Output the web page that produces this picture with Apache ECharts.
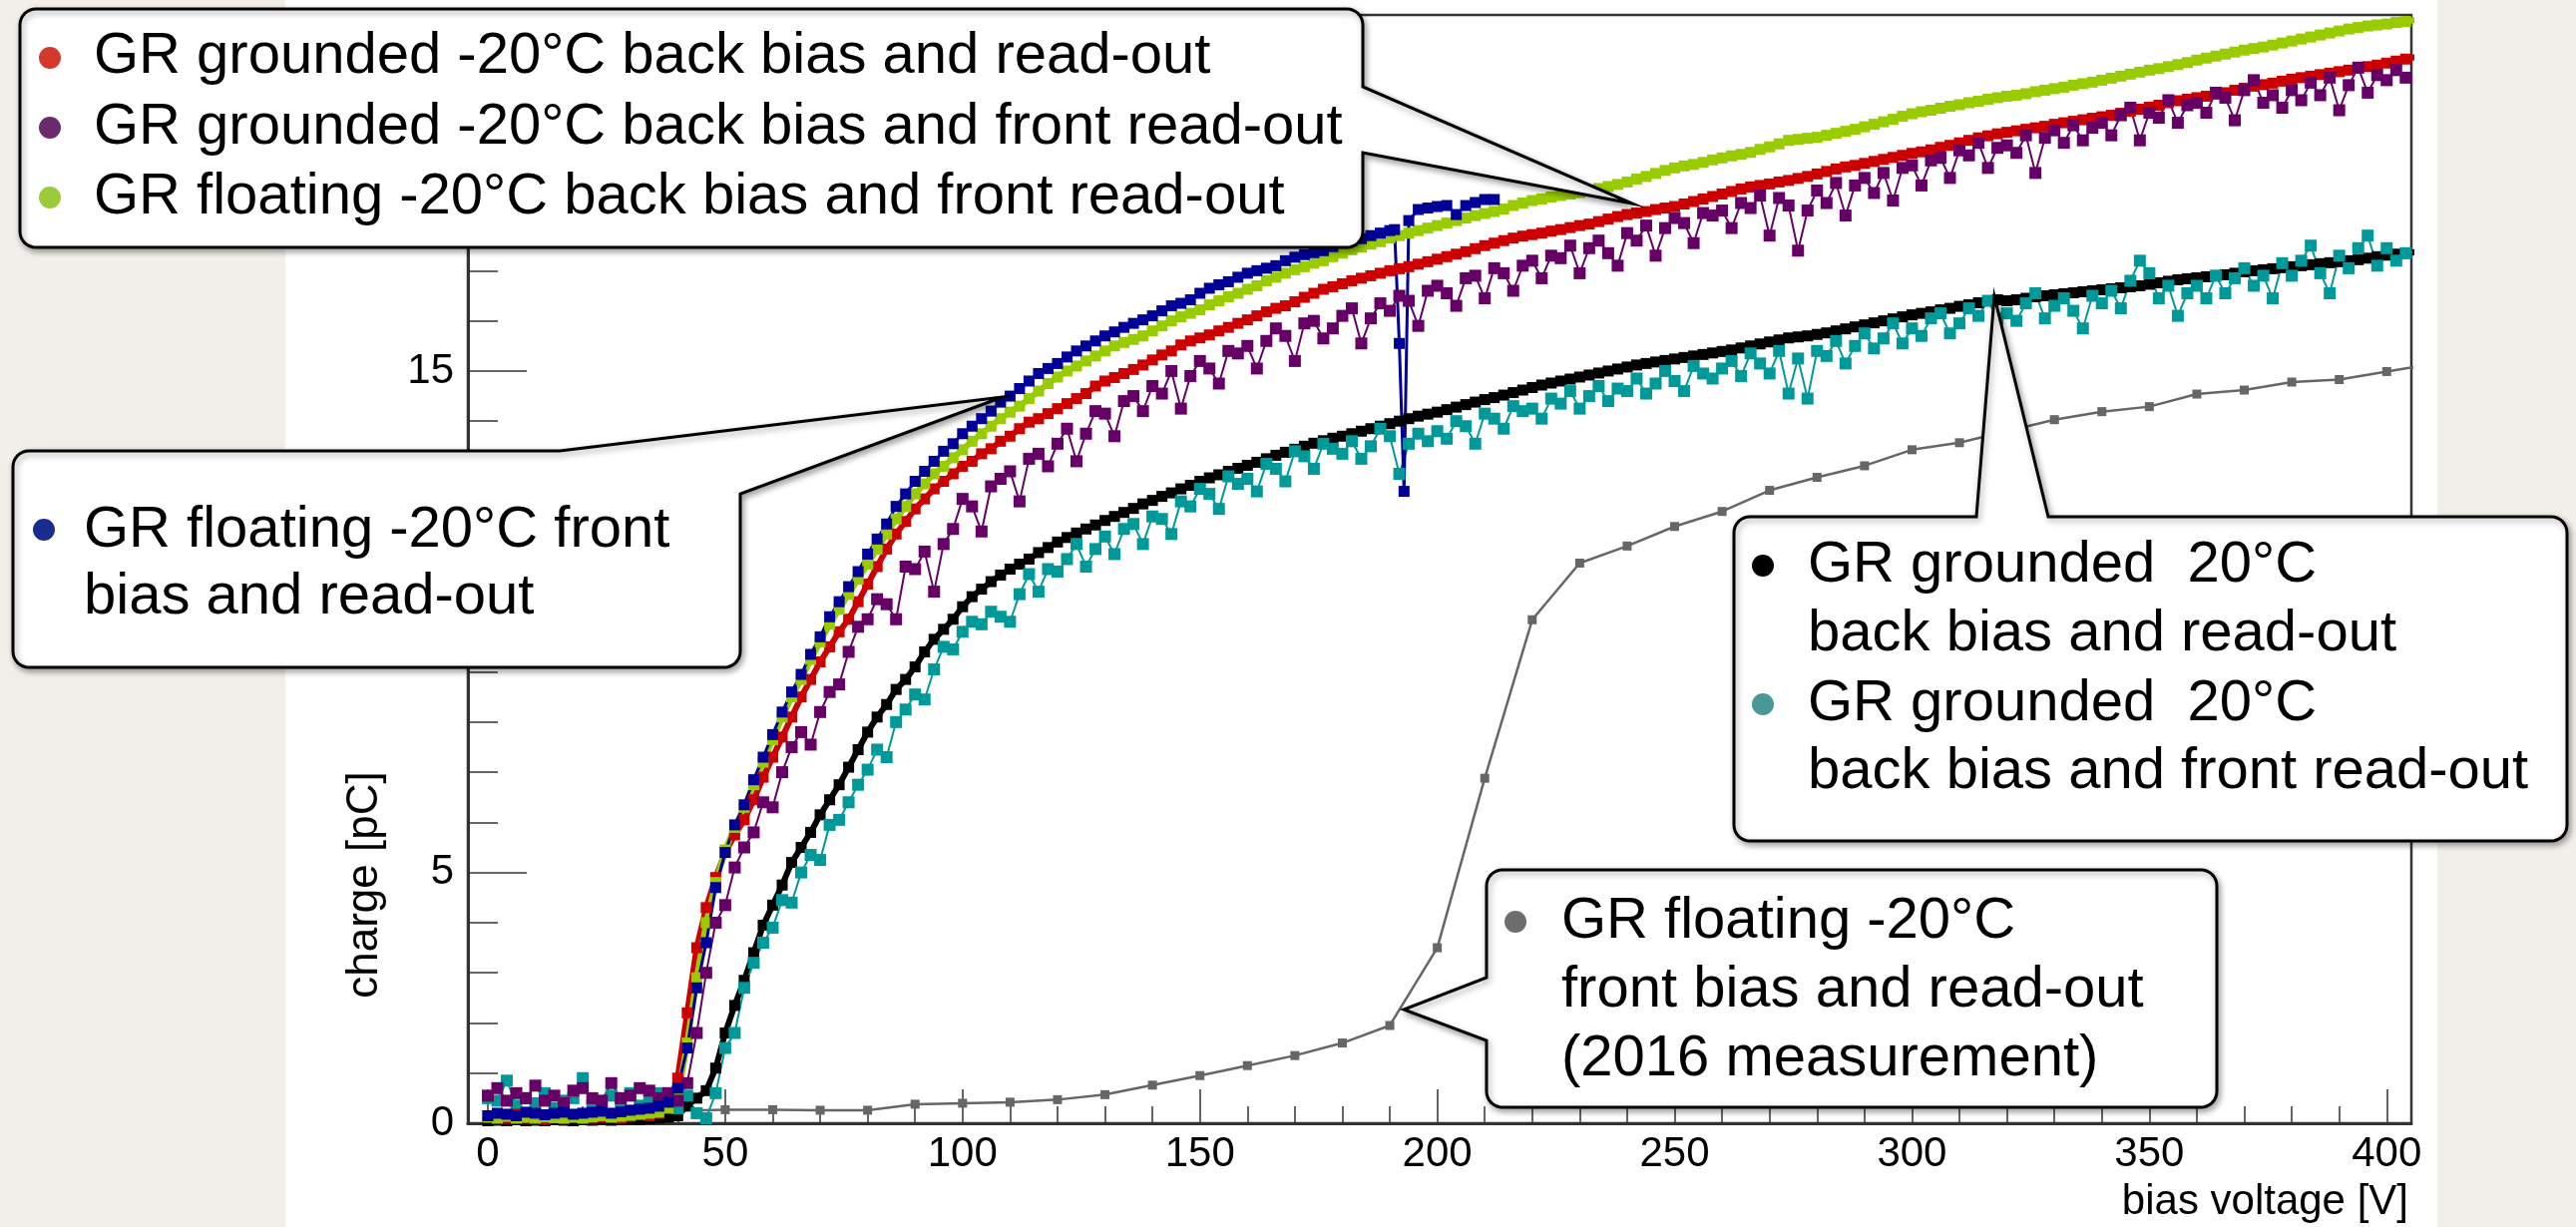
<!DOCTYPE html>
<html><head><meta charset="utf-8">
<script src="https://cdn.jsdelivr.net/npm/echarts@6/dist/echarts.min.js"></script>
<style>html,body{margin:0;padding:0;background:#f2efea}#c{width:2582px;height:1230px}</style>
</head><body><div id="c"></div>
<script>
// bias voltage scan points [V]
const volts = [
0,2,4,6,8,10,12,14,16,18,
20,22,24,26,28,30,32,34,36,38,
40,42,44,46,48,50,52,54,56,58,
60,62,64,66,68,70,72,74,76,78,
80,82,84,86,88,90,92,94,96,98,
100,102,104,106,108,110,112,114,116,118,
120,122,124,126,128,130,132,134,136,138,
140,142,144,146,148,150,152,154,156,158,
160,162,164,166,168,170,172,174,176,178,
180,182,184,186,188,190,192,194,196,198,
200,202,204,206,208,210,212,214,216,218,
220,222,224,226,228,230,232,234,236,238,
240,242,244,246,248,250,252,254,256,258,
260,262,264,266,268,270,272,274,276,278,
280,282,284,286,288,290,292,294,296,298,
300,302,304,306,308,310,312,314,316,318,
320,322,324,326,328,330,332,334,336,338,
340,342,344,346,348,350,352,354,356,358,
360,362,364,366,368,370,372,374,376,378,
380,382,384,386,388,390,392,394,396,398,
400,402,404,406,408];

// GR grounded -20C back bias and read-out [pC]
const redQ = [
0.15,0.12,0.10,0.18,0.10,0.12,0.08,0.15,0.10,0.12,
0.14,0.10,0.12,0.16,0.10,0.14,0.18,0.15,0.20,0.35,
0.90,2.20,3.50,4.30,4.90,5.40,5.75,6.05,6.45,6.90,
7.30,7.70,8.10,8.50,8.85,9.20,9.50,9.80,10.05,10.40,
10.75,11.10,11.45,11.75,12.00,12.25,12.45,12.65,12.80,12.95,
13.10,13.20,13.35,13.45,13.60,13.70,13.85,13.98,14.05,14.15,
14.25,14.35,14.45,14.55,14.70,14.80,14.87,14.95,15.03,15.12,
15.22,15.32,15.40,15.52,15.60,15.66,15.72,15.80,15.87,15.95,
16.02,16.10,16.18,16.25,16.30,16.38,16.47,16.55,16.63,16.68,
16.74,16.80,16.85,16.90,16.95,17.00,17.04,17.08,17.13,17.18,
17.23,17.28,17.33,17.38,17.44,17.50,17.55,17.60,17.65,17.69,
17.72,17.75,17.79,17.82,17.86,17.90,17.93,17.98,18.03,18.08,
18.12,18.15,18.18,18.22,18.25,18.28,18.33,18.38,18.43,18.48,
18.53,18.58,18.63,18.67,18.70,18.73,18.77,18.80,18.84,18.88,
18.93,18.98,19.03,19.07,19.10,19.14,19.18,19.22,19.26,19.30,
19.34,19.37,19.41,19.46,19.50,19.55,19.60,19.65,19.69,19.73,
19.76,19.79,19.82,19.85,19.88,19.92,19.95,19.98,20.01,20.04,
20.07,20.10,20.14,20.18,20.22,20.26,20.30,20.35,20.39,20.42,
20.45,20.48,20.52,20.55,20.60,20.64,20.68,20.71,20.74,20.78,
20.82,20.85,20.88,20.91,20.94,20.97,21.00,21.04,21.07,21.10,
21.14,21.18,21.22,21.26,21.30];

// GR grounded -20C back bias and front read-out [pC]
const purpleQ = [
0.55,0.70,0.45,0.60,0.50,0.75,0.45,0.55,0.40,0.65,
0.70,0.50,0.45,0.80,0.50,0.55,0.70,0.65,0.50,0.60,
0.45,0.80,1.80,3.00,4.00,4.35,5.10,5.50,5.80,6.40,
6.30,7.00,7.50,7.80,7.55,8.20,8.60,8.75,9.40,9.90,
10.05,10.45,10.35,10.05,11.10,11.05,11.40,10.60,11.55,11.85,
12.45,12.30,11.80,12.70,12.85,13.00,12.40,13.25,13.35,13.10,
13.55,13.85,13.20,13.75,14.20,14.15,13.70,14.40,14.50,14.20,
14.70,14.55,15.00,14.25,14.90,15.20,15.05,14.75,15.40,15.35,
15.50,15.05,15.60,15.85,15.70,15.20,15.95,16.00,15.65,15.85,
16.10,16.25,15.55,16.05,16.35,16.20,16.50,16.40,15.90,16.60,
16.70,16.55,16.30,16.85,16.90,16.45,17.05,16.95,16.60,17.10,
17.20,16.85,17.30,17.25,17.50,16.95,17.45,17.60,17.35,17.10,
17.75,17.60,17.90,17.30,17.85,18.05,17.95,17.55,18.15,18.10,
18.20,17.85,18.35,18.25,18.50,17.70,18.45,18.30,17.40,18.20,
18.60,18.35,18.75,18.10,18.70,18.85,18.55,18.95,18.40,19.05,
19.10,18.70,19.20,19.25,18.85,19.40,19.30,19.55,19.05,19.45,
19.50,19.35,19.70,18.95,19.65,19.80,19.55,19.90,19.60,19.85,
19.95,19.70,20.10,20.25,19.60,20.15,20.05,20.40,19.95,20.30,
20.35,20.15,20.55,20.45,20.00,20.60,20.80,20.35,20.50,20.25,
20.60,20.40,20.75,20.50,20.85,20.20,20.70,21.05,20.55,20.90,
20.80,21.00,20.85,20.80,20.70];

// GR floating -20C back bias and front read-out [pC]
const greenQ = [
0.12,0.10,0.14,0.10,0.12,0.10,0.13,0.11,0.10,0.12,
0.10,0.13,0.15,0.12,0.14,0.16,0.18,0.20,0.22,0.30,
0.50,1.60,2.90,4.00,4.80,5.45,5.90,6.30,6.75,7.20,
7.65,8.10,8.50,8.85,9.25,9.60,9.95,10.25,10.55,10.85,
11.15,11.45,11.75,12.05,12.30,12.55,12.75,12.95,13.10,13.27,
13.43,13.60,13.75,13.90,14.05,14.18,14.30,14.45,14.60,14.75,
14.88,15.00,15.10,15.20,15.30,15.40,15.50,15.57,15.63,15.70,
15.80,15.90,16.00,16.08,16.15,16.22,16.32,16.40,16.48,16.55,
16.63,16.70,16.80,16.87,16.95,17.02,17.08,17.15,17.20,17.28,
17.35,17.42,17.47,17.53,17.58,17.65,17.70,17.75,17.80,17.85,
17.90,17.95,18.00,18.05,18.10,18.14,18.18,18.23,18.30,18.35,
18.40,18.43,18.47,18.50,18.53,18.56,18.60,18.64,18.68,18.72,
18.77,18.83,18.88,18.94,19.00,19.05,19.09,19.12,19.16,19.21,
19.25,19.29,19.32,19.36,19.42,19.47,19.53,19.60,19.62,19.64,
19.66,19.70,19.74,19.78,19.82,19.87,19.92,19.97,20.02,20.08,
20.13,20.17,20.20,20.24,20.28,20.31,20.35,20.38,20.42,20.45,
20.48,20.50,20.53,20.57,20.60,20.63,20.66,20.70,20.73,20.76,
20.80,20.84,20.88,20.92,20.96,21.00,21.03,21.07,21.11,21.15,
21.20,21.24,21.28,21.32,21.36,21.40,21.43,21.46,21.50,21.54,
21.58,21.62,21.66,21.70,21.74,21.78,21.82,21.85,21.88,21.90,
21.92,21.95,21.97,22.00,22.03];

// GR grounded 20C back bias and read-out [pC]
const blackQ = [
0.05,0.06,0.05,0.07,0.05,0.06,0.05,0.07,0.06,0.05,
0.07,0.06,0.08,0.06,0.07,0.08,0.07,0.09,0.10,0.12,
0.15,0.35,0.50,0.65,1.10,1.80,2.35,2.85,3.40,3.95,
4.35,4.75,5.20,5.50,5.80,6.15,6.45,6.75,7.10,7.45,
7.80,8.10,8.35,8.65,8.85,9.10,9.40,9.65,9.85,10.05,
10.30,10.50,10.65,10.80,10.93,11.05,11.15,11.25,11.38,11.48,
11.59,11.68,11.77,11.85,11.93,12.02,12.10,12.18,12.26,12.35,
12.42,12.50,12.57,12.65,12.72,12.80,12.87,12.93,13.00,13.06,
13.12,13.18,13.25,13.32,13.38,13.44,13.50,13.56,13.61,13.66,
13.70,13.75,13.80,13.85,13.90,13.95,14.00,14.05,14.10,14.14,
14.18,14.23,14.28,14.33,14.38,14.43,14.47,14.52,14.57,14.62,
14.67,14.72,14.76,14.80,14.84,14.88,14.92,14.96,15.00,15.04,
15.08,15.12,15.15,15.18,15.21,15.24,15.27,15.30,15.33,15.36,
15.39,15.42,15.46,15.50,15.54,15.58,15.62,15.66,15.68,15.70,
15.73,15.76,15.80,15.84,15.88,15.92,15.96,16.00,16.04,16.08,
16.12,16.15,16.18,16.22,16.25,16.29,16.32,16.36,16.40,16.42,
16.40,16.42,16.45,16.48,16.50,16.52,16.54,16.56,16.58,16.60,
16.62,16.64,16.66,16.68,16.70,16.73,16.76,16.79,16.82,16.84,
16.86,16.88,16.90,16.92,16.95,16.98,17.00,17.02,17.04,17.06,
17.08,17.10,17.12,17.14,17.16,17.18,17.20,17.22,17.25,17.28,
17.31,17.33,17.35,17.37,17.39];

// GR grounded 20C back bias and front read-out [pC]
const tealQ = [
0.50,0.45,0.85,0.35,0.50,0.40,0.60,0.30,0.45,0.50,
0.90,0.35,0.40,0.55,0.45,0.60,0.35,0.50,0.60,0.40,
0.30,0.55,0.20,0.10,0.60,1.50,1.80,2.70,3.20,3.60,
3.90,4.45,4.40,5.00,5.35,5.25,5.95,6.05,6.40,6.75,
7.05,7.45,7.30,8.00,8.25,8.55,8.45,9.05,9.50,9.45,
9.80,10.00,9.95,10.20,10.10,10.00,10.55,10.95,10.60,11.05,
11.00,11.25,11.55,11.10,11.45,11.70,11.35,11.85,11.95,11.55,
12.10,12.05,11.75,12.40,12.30,12.65,12.55,12.25,12.90,12.75,
12.85,12.60,13.15,13.05,12.80,13.40,13.30,13.05,13.55,13.45,
13.35,13.60,13.25,13.50,13.85,13.70,12.95,13.55,13.75,13.60,
13.80,13.65,14.00,13.90,13.55,14.15,14.05,13.85,14.30,14.20,
14.25,14.05,14.45,14.35,14.60,14.25,14.50,14.70,14.40,14.65,
14.60,14.85,14.55,14.75,15.00,14.80,14.60,15.10,14.95,14.85,
15.05,15.20,14.90,15.35,15.15,14.95,15.40,14.55,15.25,14.45,
15.40,15.30,15.60,15.15,15.50,15.75,15.45,15.65,15.95,15.55,
15.85,15.70,16.05,16.15,15.75,15.95,16.25,16.10,16.40,16.05,
16.15,16.00,16.35,16.55,16.05,16.30,16.45,16.20,15.85,16.50,
16.35,16.60,16.25,16.80,17.20,16.95,16.45,16.70,16.10,16.55,
16.70,16.45,16.90,16.55,16.85,17.05,16.70,16.90,16.45,17.15,
16.90,17.20,17.50,16.95,16.55,17.30,17.05,17.45,17.70,17.10,
17.45,17.20,17.35,17.37,17.40];

// GR floating -20C front bias and read-out
const blueV = [
0,2,4,6,8,10,12,14,16,18,
20,22,24,26,28,30,32,34,36,38,
40,42,44,46,48,50,52,54,56,58,
60,62,64,66,68,70,72,74,76,78,
80,82,84,86,88,90,92,94,96,98,
100,102,104,106,108,110,112,114,116,118,
120,122,124,126,128,130,132,134,136,138,
140,142,144,146,148,150,152,154,156,158,
160,162,164,166,168,170,172,174,176,178,
180,182,184,186,188,
190,191,192,193,194,196,198,200,202,204,206,208,210,212];
const blueQ = [
0.15,0.20,0.18,0.15,0.22,0.20,0.17,0.20,0.22,0.18,
0.20,0.22,0.24,0.20,0.23,0.26,0.28,0.30,0.34,0.42,
0.70,1.50,2.70,3.60,4.70,5.40,5.95,6.35,6.85,7.30,
7.75,8.20,8.60,8.95,9.35,9.70,10.10,10.40,10.70,11.00,
11.35,11.65,11.95,12.30,12.55,12.80,13.00,13.20,13.40,13.55,
13.75,13.90,14.05,14.20,14.38,14.50,14.65,14.80,14.95,15.05,
15.15,15.28,15.40,15.50,15.60,15.70,15.78,15.87,15.95,16.02,
16.10,16.20,16.30,16.35,16.42,16.55,16.65,16.72,16.78,16.87,
16.95,17.00,17.05,17.10,17.20,17.27,17.32,17.36,17.40,17.48,
17.55,17.60,17.64,17.70,17.75,
17.80,17.82,15.55,12.60,18.00,18.22,18.25,18.28,18.30,18.12,18.30,18.36,18.42,18.42];

// GR floating -20C front bias and read-out (2016 measurement)
const grayV = [10,20,30,40,50,60,70,80,90,100,110,120,130,140,150,160,170,180,190,200,
210,220,230,240,250,260,270,280,290,300,310,320,330,340,350,360,370,380,390,400,410];
const grayQ = [0.15,0.13,0.18,0.25,0.27,0.27,0.26,0.26,0.38,0.40,0.42,0.47,0.57,0.76,0.95,1.15,1.35,1.60,1.95,3.50,
6.88,10.04,11.17,11.51,11.90,12.20,12.62,12.88,13.11,13.43,13.57,13.80,14.03,14.19,14.29,14.54,14.62,14.78,14.83,14.99,15.15];

// tick positions
const xMajorTicks = [0,50,100,150,200,250,300,350,400];
const xMinorTicks = [0,10,20,30,40,50,60,70,80,90,100,110,120,130,140,150,160,170,180,190,200,
210,220,230,240,250,260,270,280,290,300,310,320,330,340,350,360,370,380,390,400];
const yMajorTicks = [0,5,10,15,20];
const yMinorTicks = [0,1,2,3,4,5,6,7,8,9,10,11,12,13,14,15,16,17,18,19,20,21,22];

// legend texts
const box1Lines = ['GR grounded -20°C back bias and read-out','GR grounded -20°C back bias and front read-out','GR floating -20°C back bias and front read-out'];
const box2Lines = ['GR floating -20°C front','bias and read-out'];
const box3Lines = ['GR grounded  20°C','back bias and read-out','GR grounded  20°C','back bias and front read-out'];
const box4Lines = ['GR floating -20°C','front bias and read-out','(2016 measurement)'];

const FONT = '"Liberation Sans", Arial, Helvetica, sans-serif';

function pairs(xs, ys){ return ys.map((y,i)=>[xs[i], y]); }
function ser(name, xs, ys, color, size, lw){
  return {type:'line', name, data:pairs(xs,ys), symbol:'rect', symbolSize:size, showSymbol:true,
    itemStyle:{color}, lineStyle:{color, width:lw}, animation:false, silent:true, clip:true, emphasis:{disabled:true}};
}

function boxPoints(L,T,R,B,r,tail){
  const pts=[];
  const arc=(cx,cy,a0,a1)=>{for(let k=0;k<=8;k++){const a=a0+(a1-a0)*k/8;pts.push([cx+r*Math.cos(a),cy+r*Math.sin(a)]);}};
  arc(L+r,T+r,Math.PI,1.5*Math.PI);
  if(tail.side==='top'){pts.push([tail.a,T],tail.tip,[tail.b,T]);}
  if(tail.side==='topright'){pts.push([tail.a,T],tail.tip,[R,tail.b]);}
  else { arc(R-r,T+r,-0.5*Math.PI,0); }
  if(tail.side==='right'){pts.push([R,tail.a],tail.tip,[R,tail.b]);}
  arc(R-r,B-r,0,0.5*Math.PI);
  arc(L+r,B-r,0.5*Math.PI,Math.PI);
  if(tail.side==='left'){pts.push([L,tail.b],tail.tip,[L,tail.a]);}
  return pts;
}
function box(L,T,R,B,tail){
  return {type:'polygon', z:100, silent:true, shape:{points:boxPoints(L,T,R,B,16,tail)},
    style:{fill:'#ffffff', stroke:'#000000', lineWidth:3, shadowBlur:6, shadowColor:'rgba(0,0,0,0.35)', shadowOffsetX:2, shadowOffsetY:3}};
}
function txt(x,y,t,size){
  return {type:'text', z:101, silent:true, x, y, style:{text:t, fontSize:size||58, fontFamily:FONT, fill:'#000',
    textAlign:'left', textVerticalAlign:'middle'}};
}
function dot(x,y,c){ return {type:'circle', z:101, silent:true, shape:{cx:x, cy:y, r:11}, style:{fill:c}}; }

const graphics = [
  {type:'rect', z:-10, silent:true, shape:{x:286, y:0, width:2157, height:1230}, style:{fill:'#ffffff'}},
  // y axis title
  {type:'text', z:5, silent:true, x:366, y:887, rotation:Math.PI/2,
    style:{text:'charge [pC]', fontSize:44, fontFamily:FONT, fill:'#000', textAlign:'center', textVerticalAlign:'middle'}},
  box(20,9,1366,248,{side:'right', a:87, b:153, tip:[1636,204]}),
  dot(50,58,'#d23a2f'), dot(50,128,'#6b2a6b'), dot(50,198,'#9bcb3a'),
  txt(94,57,box1Lines[0]), txt(94,128,box1Lines[1]), txt(94,198,box1Lines[2]),
  box(13,452,742,669,{side:'topright', a:561, b:495, tip:[1005,398]}),
  dot(44,531,'#1b2c8f'),
  txt(84,532,box2Lines[0]), txt(84,599,box2Lines[1]),
  box(1738,518,2573,843,{side:'top', a:1981, b:2053, tip:[1999,297]}),
  dot(1767,567,'#000000'), dot(1767,706,'#4a9797'),
  txt(1812,567,box3Lines[0]), txt(1812,636,box3Lines[1]), txt(1812,706,box3Lines[2]), txt(1812,774,box3Lines[3]),
  box(1490,872,2222,1110,{side:'left', a:980, b:1043, tip:[1407,1012]}),
  dot(1519,924,'#6d6d6d'),
  txt(1565,924,box4Lines[0]), txt(1565,993,box4Lines[1]), txt(1565,1062,box4Lines[2])
];

const AX = '#333';
const chart = echarts.init(document.getElementById('c'), null, {renderer:'canvas'});
chart.setOption({
  backgroundColor:'#f2efea',
  animation:false,
  grid:{left:469, top:15, right:165, bottom:104, show:true, borderColor:AX, borderWidth:2.5, backgroundColor:'transparent'},
  xAxis:[
    {type:'value', min:-4.2, max:405.2, position:'bottom',
      axisLine:{show:true, onZero:false, lineStyle:{color:AX, width:3}},
      axisTick:{show:true, inside:true, length:17, customValues:xMinorTicks, lineStyle:{color:AX, width:1.5}},
      axisLabel:{show:false}, splitLine:{show:false}},
    {type:'value', min:-4.2, max:405.2, position:'bottom',
      axisLine:{show:false, onZero:false},
      axisTick:{show:true, inside:true, length:34, customValues:xMajorTicks, lineStyle:{color:AX, width:1.5}},
      axisLabel:{show:true, customValues:xMajorTicks, fontSize:42, fontFamily:FONT, color:'#000', margin:10},
      splitLine:{show:false},
      name:'bias voltage [V]', nameLocation:'end', nameGap:-3,
      nameTextStyle:{fontSize:42, fontFamily:FONT, color:'#000', align:'right', verticalAlign:'top', padding:[58,0,0,0]}}
  ],
  yAxis:[
    {type:'value', min:0, max:22.1, position:'left',
      axisLine:{show:true, onZero:false, lineStyle:{color:AX, width:3}},
      axisTick:{show:true, inside:true, length:30, customValues:yMinorTicks, lineStyle:{color:AX, width:1.5}},
      axisLabel:{show:false}, splitLine:{show:false}},
    {type:'value', min:0, max:22.1, position:'left',
      axisLine:{show:false, onZero:false},
      axisTick:{show:true, inside:true, length:59, customValues:yMajorTicks, lineStyle:{color:AX, width:1.5}},
      axisLabel:{show:true, customValues:yMajorTicks, fontSize:42, fontFamily:FONT, color:'#000', margin:14},
      splitLine:{show:false}}
  ],
  series:[
    ser('GR floating -20°C front bias and read-out (2016 measurement)', grayV, grayQ, '#666666', 9, 2.5),
    ser('GR grounded 20°C back bias and read-out', volts, blackQ, '#000000', 11, 6),
    ser('GR grounded 20°C back bias and front read-out', volts, tealQ, '#009999', 12, 2),
    ser('GR grounded -20°C back bias and read-out', volts, redQ, '#cc0000', 11, 6),
    ser('GR floating -20°C back bias and front read-out', volts, greenQ, '#99cc00', 11, 6),
    ser('GR grounded -20°C back bias and front read-out', volts, purpleQ, '#660066', 12, 2),
    ser('GR floating -20°C front bias and read-out', blueV, blueQ, '#000099', 11, 3)
  ],
  graphic:{elements:graphics}
});
</script>
</body></html>
